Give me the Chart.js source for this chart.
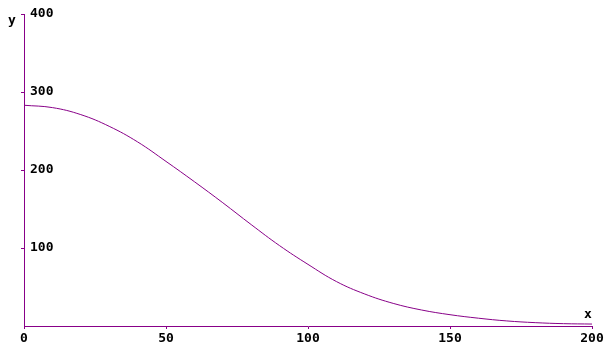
<!DOCTYPE html>
<html>
<head>
<meta charset="utf-8">
<script src="https://cdn.jsdelivr.net/npm/chart.js"></script>
<style>
  html, body { margin: 0; padding: 0; background: #fff; }
  #wrap { width: 610px; height: 359px; }
</style>
</head>
<body>
<div id="wrap"><canvas id="myChart"></canvas></div>
<script>
// values
const xValues = [0, 10, 20, 30, 40, 50, 60, 70, 80, 90, 100, 110, 120, 130, 140, 150, 160, 170, 180, 190, 200];
const yValues = [283, 280, 271, 256, 236, 211, 185, 158, 130, 103, 79, 57, 41, 29, 20.5, 14.5, 10, 6.5, 4.3, 3, 2.5];
const xTicks = [0, 50, 100, 150, 200];
const yTicks = [100, 200, 300, 400];

const axisColor = "#880088";
const font = { family: "DejaVu Sans Mono", size: 13, weight: "bold" };

const points = xValues.map((x, i) => ({ x: x, y: yValues[i] }));

// axis names "x" and "y"
const axisNames = {
  id: "axisNames",
  afterDraw(chart) {
    const ctx = chart.ctx;
    const area = chart.chartArea;
    ctx.save();
    ctx.font = "bold 13px 'DejaVu Sans Mono'";
    ctx.fillStyle = "#000";
    ctx.textBaseline = "middle";
    ctx.textAlign = "center";
    ctx.fillText("y", area.left - 12, area.top + 7);
    ctx.fillText("x", area.right - 4, area.bottom - 11);
    ctx.restore();
  }
};

new Chart(document.getElementById("myChart"), {
  type: "line",
  data: {
    datasets: [{
      data: points,
      borderColor: axisColor,
      borderWidth: 1,
      pointRadius: 0,
      fill: false,
      tension: 0.4
    }]
  },
  options: {
    responsive: true,
    maintainAspectRatio: false,
    animation: false,
    layout: { padding: { left: 24, right: 18, top: 14, bottom: 0 } },
    plugins: { legend: { display: false }, tooltip: { enabled: false } },
    scales: {
      x: {
        type: "linear",
        min: 0,
        max: 200,
        afterFit(scale) { scale.height = 33; },
        afterBuildTicks(scale) { scale.ticks = xTicks.map(v => ({ value: v })); },
        border: { color: axisColor, width: 1 },
        grid: { drawOnChartArea: false, color: axisColor, tickLength: 3 },
        ticks: { color: "#000", font: font, padding: 2, maxRotation: 0, autoSkip: false }
      },
      y: {
        type: "linear",
        min: 0,
        max: 400,
        afterFit(scale) { scale.width = 0; },
        afterBuildTicks(scale) { scale.ticks = yTicks.map(v => ({ value: v })); },
        border: { color: axisColor, width: 1 },
        grid: { drawOnChartArea: false, color: axisColor, tickLength: 3 },
        ticks: { color: "#000", font: font, mirror: true, padding: 6, autoSkip: false }
      }
    }
  },
  plugins: [axisNames]
});
</script>
</body>
</html>
